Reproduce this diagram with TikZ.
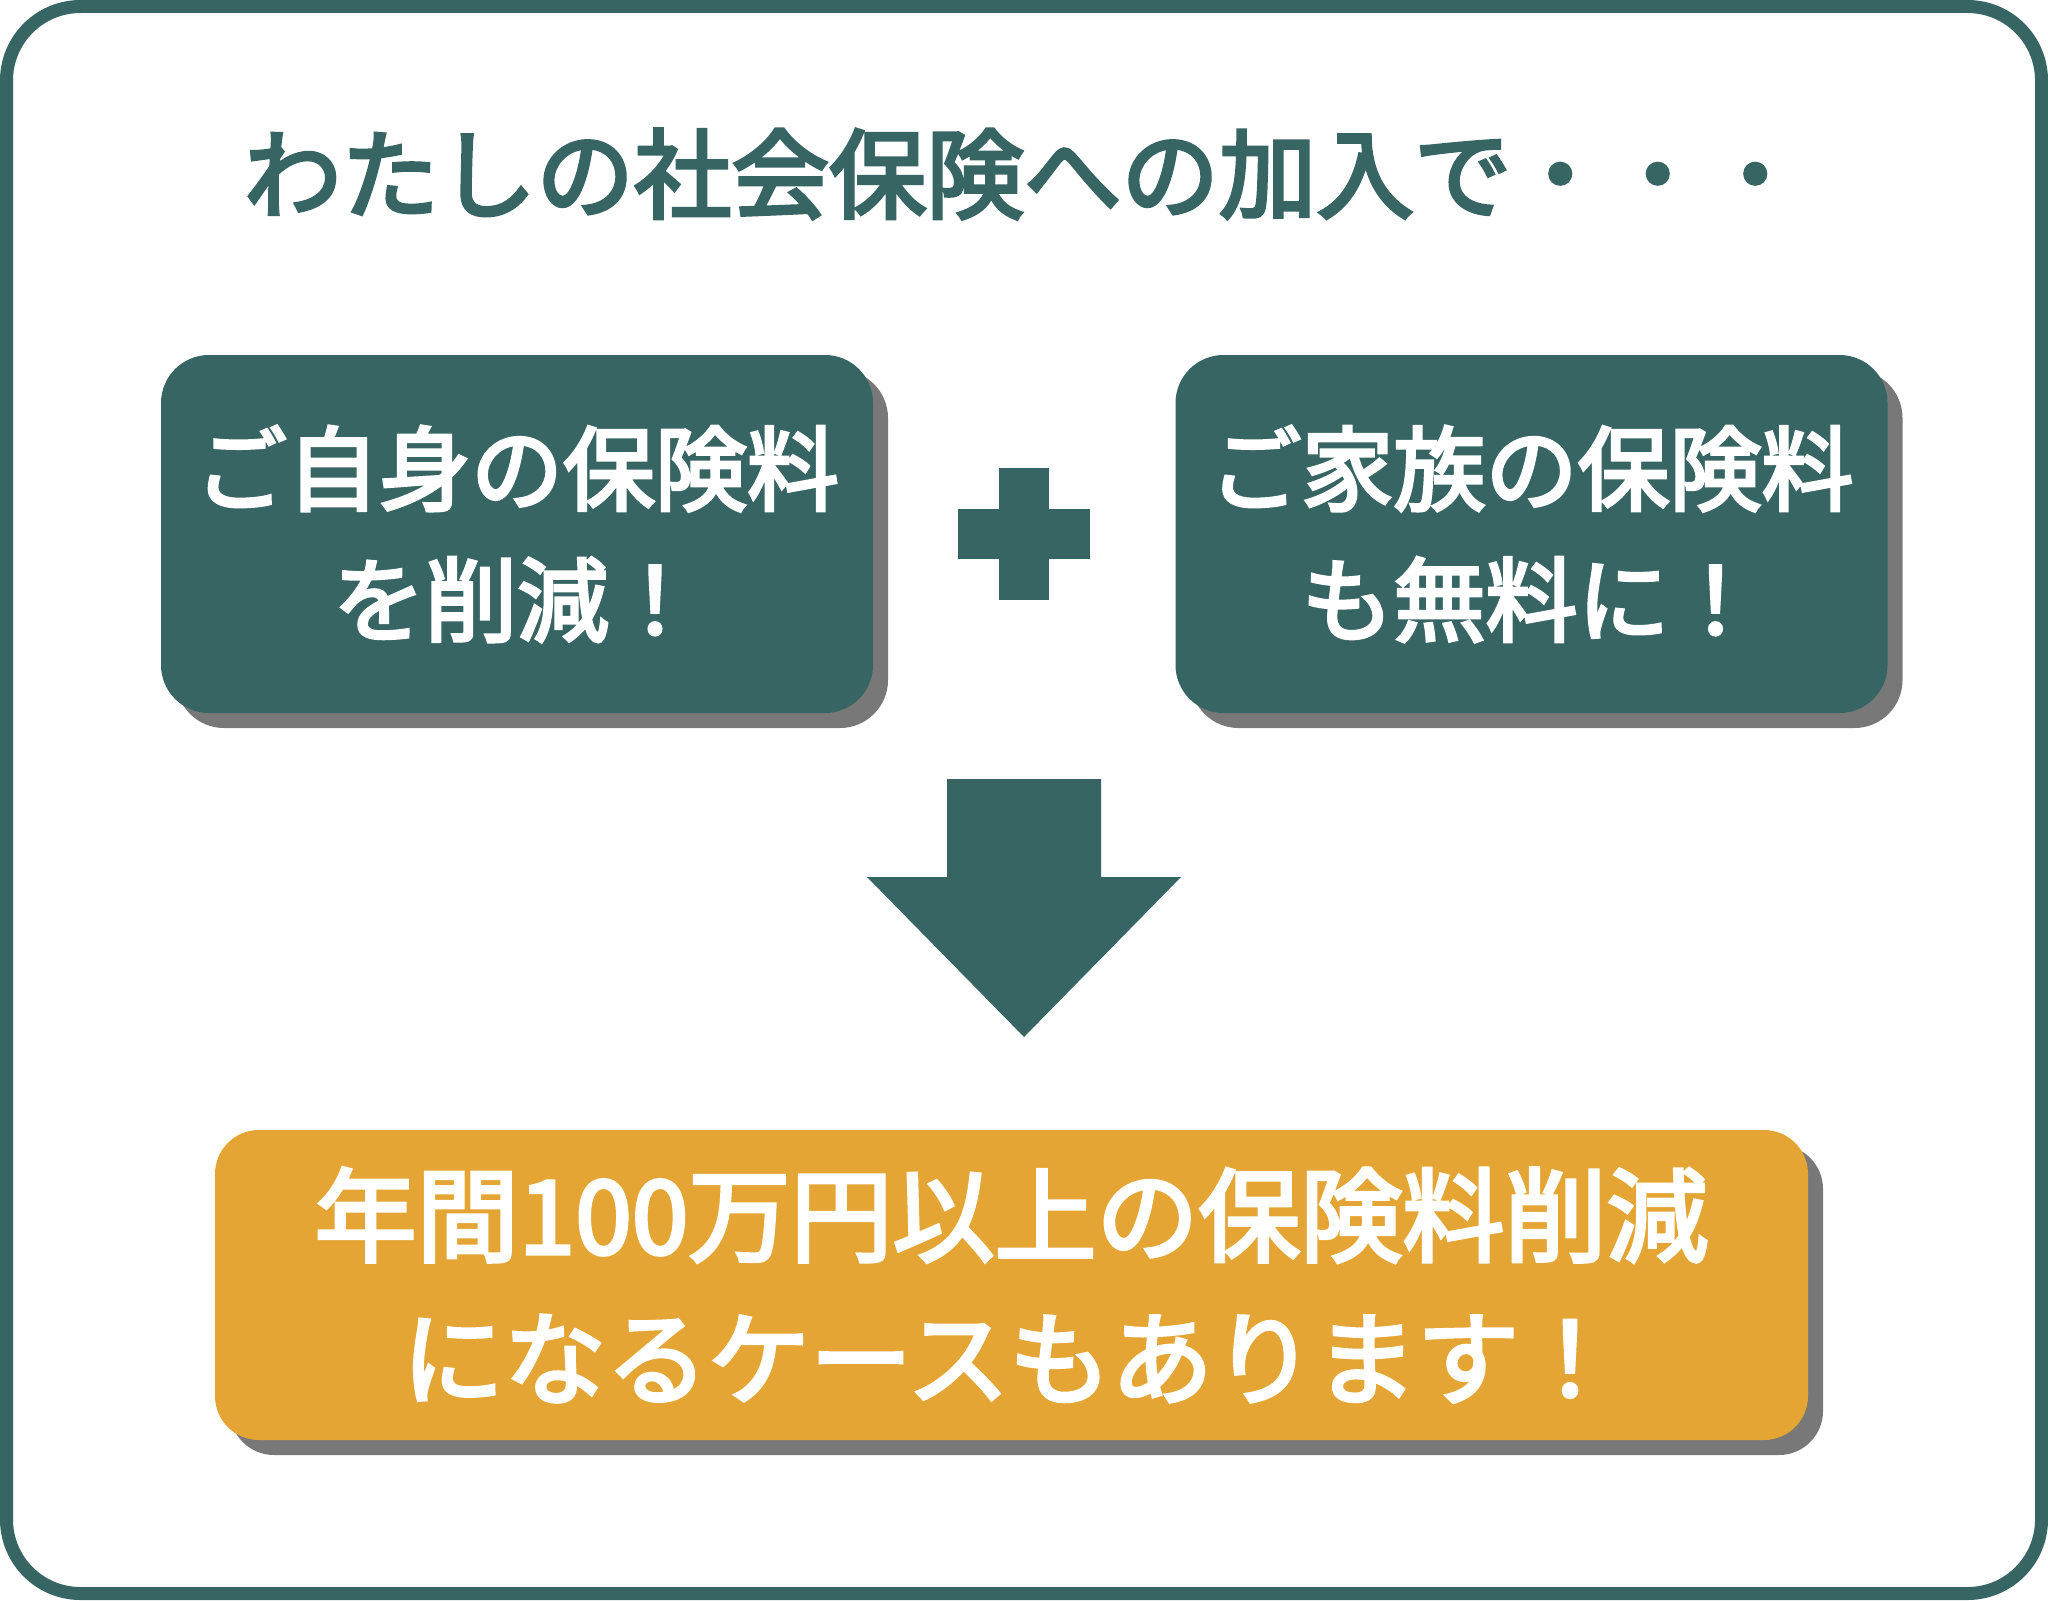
\documentclass[tikz,border=0pt]{standalone}
\usepackage{fontspec}
\newfontfamily\jp{Noto Sans CJK JP}[FakeBold=3.5]
\usetikzlibrary{shadows}
\definecolor{teal1}{RGB}{54,101,100}
\definecolor{orange1}{RGB}{228,165,52}
\definecolor{shadowgray}{RGB}{120,120,120}
\tikzset{
  panel/.style={draw=none, rounded corners=24pt, text=white, align=center, inner sep=0pt,
    general shadow={fill=shadowgray, shadow xshift=7.5pt, shadow yshift=-7.5pt}},
  tealpanel/.style={panel, fill=teal1, minimum width=356pt, minimum height=179pt,
    font=\jp\fontsize{46pt}{65.5pt}\selectfont},
  orangepanel/.style={panel, fill=orange1, rounded corners=22pt, minimum width=796.5pt, minimum height=155pt,
    font=\jp\fontsize{51pt}{71.5pt}\selectfont},
  titletext/.style={text=teal1, inner sep=0pt, font=\jp\fontsize{48.75pt}{58pt}\selectfont},
  shapefill/.style={fill=teal1, draw=none}
}
\begin{document}
\begin{tikzpicture}[x=0.5pt, y=-0.5pt]
\useasboundingbox (0,0) rectangle (2048,1600);
\fill[white] (0,0) rectangle (2048,1600);
% outer frame
\draw[teal1, line width=6.5pt, rounded corners=37pt] (6.5,6.5) rectangle (2041.5,1593.5);
% title
\node[titletext] (title) at (1024,174) {わたしの社会保険への加入で・・・};
% panels
\node[tealpanel] (own) at (517,534) {ご自身の保険料\\を削減！};
\node[tealpanel] (family) at (1531.5,534) {ご家族の保険料\\も無料に！};
\node[orangepanel] (result) at (1011.5,1285) {年間100万円以上の保険料削減\\になるケースもあります！};
% plus sign
\fill[shapefill] (958,509) rectangle (1090,559);
\fill[shapefill] (999,468) rectangle (1049,600);
% down arrow
\fill[shapefill] (947,779) -- (1101,779) -- (1101,877) -- (1181,877) -- (1024,1037)
  -- (867,877) -- (947,877) -- cycle;
\end{tikzpicture}
\end{document}
